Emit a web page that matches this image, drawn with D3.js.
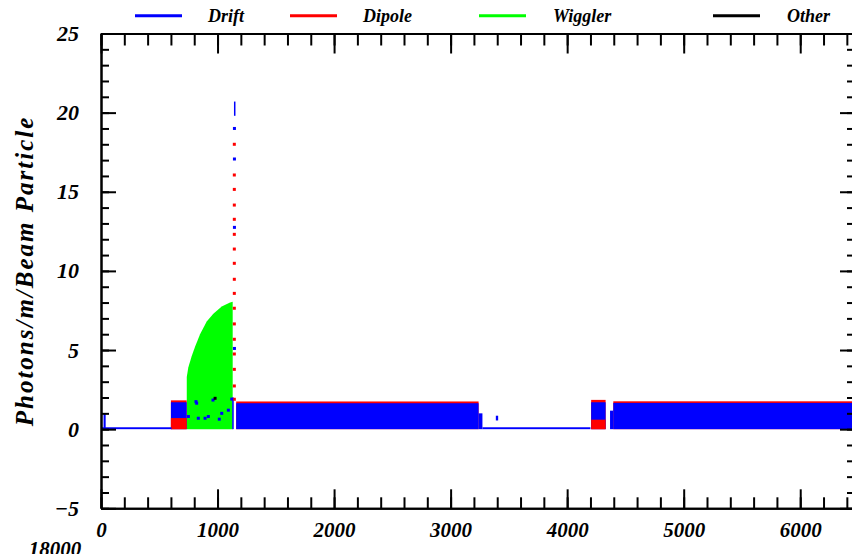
<!DOCTYPE html>
<html>
<head>
<meta charset="utf-8">
<script src="https://cdn.jsdelivr.net/npm/d3@7"></script>
<style>
  html, body { margin: 0; padding: 0; background: #fff; }
  svg { display: block; }
  text { font-family: "Liberation Serif", "DejaVu Serif", serif; font-weight: bold; font-style: italic; fill: #000; }
</style>
</head>
<body>
<svg id="chart" width="852" height="554"></svg>
<script>
// ---- data: position along the ring s (m) vs photons per metre per beam particle ----
const seriesNames = ["Drift", "Dipole", "Wiggler", "Other"];
const seriesColors = ["#0000ff", "#ff0000", "#00ff00", "#000000"];

// element bands: [sStart, sEnd, low, high]
const driftBands = [
  [0, 605, 0, 0.12],
  [22, 40, 0, 1.0],
  [600, 735, 0, 1.7],
  [1126, 1133, 0, 2.0],
  [1160, 3240, 0, 1.64],
  [3240, 3273, 0, 1.0],
  [3273, 4200, 0, 0.12],
  [3388, 3408, 0.55, 0.85],
  [4206, 4330, 0, 1.7],
  [4368, 4396, 0, 1.17],
  [4396, 6470, 0, 1.66],
  [1141, 1148, 19.8, 20.7]
];
const dipoleBands = [
  [600, 735, 0, 1.82],
  [600, 735, 0, 0.7],
  [1160, 3240, 0, 1.75],
  [4206, 4330, 0, 1.85],
  [4206, 4330, 0, 0.6],
  [4396, 6470, 0, 1.76]
];

// isolated points: [s, value]
const driftPoints = [
  [1145, 19.0], [1145, 17.07], [1145, 12.75], [1145, 5.1],
  [815, 1.74], [750, 0.8], [835, 0.69], [921, 0.8], [1015, 0.63],
  [1036, 1.0], [1122, 1.9], [821, 1.64], [893, 0.69], [1093, 1.2], [961, 1.84]
];
const dipolePoints = [
  [1144, 1.89], [1144, 2.73], [1144, 3.78], [1144, 4.75], [1144, 5.68],
  [1144, 6.65], [1144, 7.64], [1144, 8.58], [1144, 9.47], [1144, 10.48],
  [1144, 11.38], [1144, 12.31], [1144, 13.26], [1144, 14.16], [1144, 15.15],
  [1144, 16.06], [1144, 18.0]
];
const otherPoints = [[979, 1.95]];

// wiggler envelope: [s, value]
const wigglerEdge = [
  [736, 0], [736, 3.3], [749, 3.9], [778, 4.6], [807, 5.2], [850, 6.0],
  [907, 6.8], [964, 7.3], [1036, 7.75], [1107, 8.0], [1130, 8.05], [1130, 0]
];

// axis ticks
const xMajor = [0, 1000, 2000, 3000, 4000, 5000, 6000];
const xMinor = d3.range(0, 6470, 200);
const yMajor = [-5, 0, 5, 10, 15, 20, 25];
const yMinor = d3.range(-5, 26, 1);

// ---- layout ----
const svg = d3.select("#chart");
const mLeft = 101, mRight = 855, mTop = 33.5, mBottom = 508.3;
const x = d3.scaleLinear().domain([0, 6470]).range([mLeft, mRight]);
const y = d3.scaleLinear().domain([-5, 25]).range([mBottom, mTop]);

const plot = svg.append("g");

// bands: taller bars first so shorter ones stay visible on top
const bands = []
  .concat(driftBands.map(b => ({ b, c: seriesColors[0] })))
  .concat(dipoleBands.map(b => ({ b, c: seriesColors[1] })));
bands.sort((p, q) => (q.b[3] - q.b[2]) - (p.b[3] - p.b[2]));

// wiggler area
const edgeLine = d3.line().x(d => x(d[0])).y(d => y(d[1]));
plot.append("path")
  .attr("d", edgeLine(wigglerEdge) + "Z")
  .attr("fill", seriesColors[2]);

plot.selectAll("rect.band").data(bands).join("rect")
  .attr("class", "band")
  .attr("x", d => x(d.b[0]))
  .attr("width", d => Math.max(1.5, x(d.b[1]) - x(d.b[0])))
  .attr("y", d => y(d.b[3]))
  .attr("height", d => Math.max(1.5, y(d.b[2]) - y(d.b[3])))
  .attr("fill", d => d.c);

const pts = []
  .concat(dipolePoints.map(p => ({ p, c: seriesColors[1] })))
  .concat(driftPoints.map(p => ({ p, c: seriesColors[0] })))
  .concat(otherPoints.map(p => ({ p, c: seriesColors[3] })));
plot.selectAll("rect.pt").data(pts).join("rect")
  .attr("class", "pt")
  .attr("x", d => x(d.p[0]) - 1.5)
  .attr("y", d => y(d.p[1]) - 1.5)
  .attr("width", 3)
  .attr("height", 3)
  .attr("fill", d => d.c);

// ---- axes ----
function styleAxis(size) {
  return g => {
    g.selectAll("path.domain").attr("stroke", "#000").attr("stroke-width", 2);
    g.selectAll(".tick line").attr("stroke", "#000").attr("stroke-width", 2);
    g.selectAll("text")
      .style("font-family", '"Liberation Serif", serif')
      .style("font-weight", "bold").style("font-style", "italic")
      .style("font-size", size + "px").attr("fill", "#000");
  };
}

// bottom
svg.append("g").attr("transform", `translate(0,${mBottom})`)
  .call(d3.axisBottom(x).tickValues(xMinor).tickSize(-11).tickSizeOuter(0).tickFormat(""))
  .call(styleAxis(21));
svg.append("g").attr("transform", `translate(0,${mBottom})`)
  .call(d3.axisBottom(x).tickValues(xMajor).tickSize(-19).tickSizeOuter(0).tickPadding(14).tickFormat(d3.format("d")))
  .call(styleAxis(21));
// top
svg.append("g").attr("transform", `translate(0,${mTop})`)
  .call(d3.axisTop(x).tickValues(xMinor).tickSize(-12).tickSizeOuter(0).tickFormat(""))
  .call(styleAxis(21));
svg.append("g").attr("transform", `translate(0,${mTop})`)
  .call(d3.axisTop(x).tickValues(xMajor).tickSize(-20).tickSizeOuter(0).tickFormat(""))
  .call(styleAxis(21));
// left
svg.append("g").attr("transform", `translate(${mLeft},0)`)
  .call(d3.axisLeft(y).tickValues(yMinor).tickSize(-8).tickSizeOuter(0).tickFormat(""))
  .call(styleAxis(22));
svg.append("g").attr("transform", `translate(${mLeft},0)`)
  .call(d3.axisLeft(y).tickValues(yMajor).tickSize(-15).tickSizeOuter(0).tickPadding(22).tickFormat(d3.format("d")))
  .call(styleAxis(22));
// right
svg.append("g").attr("transform", `translate(${mRight},0)`)
  .call(d3.axisRight(y).tickValues(yMinor).tickSize(-8).tickSizeOuter(0).tickFormat(""))
  .call(styleAxis(22));
svg.append("g").attr("transform", `translate(${mRight},0)`)
  .call(d3.axisRight(y).tickValues(yMajor).tickSize(-15).tickSizeOuter(0).tickFormat(""))
  .call(styleAxis(22));

// y title
svg.append("text")
  .attr("transform", "translate(33,271) rotate(-90)")
  .attr("text-anchor", "middle")
  .style("font-size", "25px")
  .style("letter-spacing", "2px")
  .text("Photons/m/Beam Particle");

// caption running off the bottom edge
svg.append("text")
  .attr("x", 55).attr("y", 556)
  .attr("text-anchor", "middle")
  .style("font-size", "21px")
  .text("18000");

// ---- legend ----
const legendLineX = [135, 290, 479, 713];
const legendTextX = [208, 363, 553, 787];
const legend = svg.append("g");
seriesNames.forEach((name, i) => {
  legend.append("line")
    .attr("x1", legendLineX[i]).attr("x2", legendLineX[i] + 47)
    .attr("y1", 15.7).attr("y2", 15.7)
    .attr("stroke", seriesColors[i]).attr("stroke-width", 3);
  legend.append("text")
    .attr("x", legendTextX[i]).attr("y", 22)
    .style("font-size", "18px")
    .text(name);
});
</script>
</body>
</html>
